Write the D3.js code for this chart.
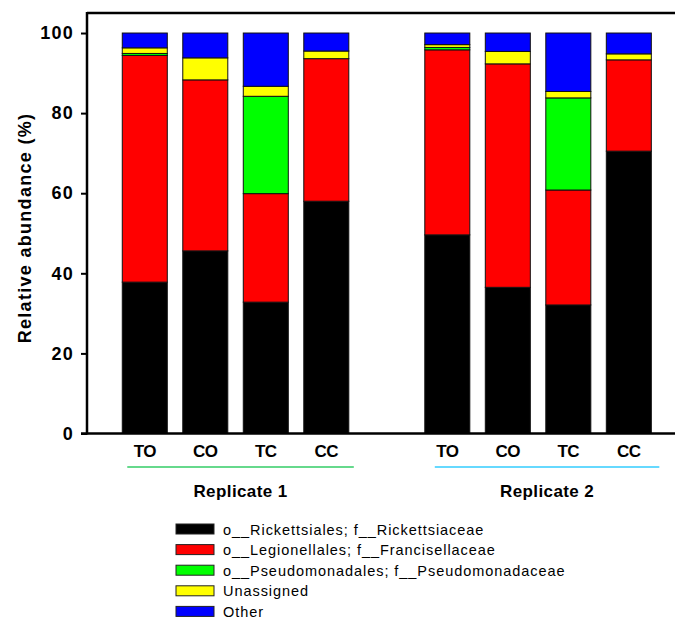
<!DOCTYPE html>
<html>
<head>
<meta charset="utf-8">
<script src="https://cdn.jsdelivr.net/npm/d3@7"></script>
<style>
  body { margin: 0; background: #fff; }
  svg { font-family: Arial, "Liberation Sans", sans-serif; }
</style>
</head>
<body>
<svg id="chart" width="675" height="620"></svg>
<script>
// chart data
const samples = ["TO", "CO", "TC", "CC"];
const replicates = ["Replicate 1", "Replicate 2"];
const taxa = ["o__Rickettsiales; f__Rickettsiaceae", "o__Legionellales; f__Francisellaceae",
              "o__Pseudomonadales; f__Pseudomonadaceae", "Unassigned", "Other"];
const colors = ["#000000", "#ff0000", "#00ff00", "#ffff00", "#0000ff"];

// one value per bar: replicate 1 TO, CO, TC, CC, then replicate 2
const rickettsiaceae   = [37.8, 45.6, 32.8, 58.0, 49.6, 36.5, 32.1, 70.5];
const francisellaceae  = [56.6, 42.7, 27.1, 35.6, 46.2, 55.8, 28.7, 22.8];
const pseudomonadaceae = [0.5, 0, 24.3, 0, 0.6, 0, 23.0, 0];
const unassigned       = [1.4, 5.5, 2.5, 1.9, 0.7, 3.1, 1.6, 1.5];
const other            = [3.7, 6.2, 13.3, 4.5, 2.9, 4.6, 14.6, 5.2];
const yTicks = [0, 20, 40, 60, 80, 100];

const series = [rickettsiaceae, francisellaceae, pseudomonadaceae, unassigned, other];

// build rows for the stack
const rows = [];
replicates.forEach((r, ri) => {
    samples.forEach((s, si) => {
        const i = ri * samples.length + si;
        const row = { key: ri + "-" + s, sample: s, rep: ri };
        taxa.forEach((t, ti) => row[t] = series[ti][i]);
        rows.push(row);
    });
});

// slot order with one empty slot between the replicates
const slots = rows.slice(0, 4).map(d => d.key).concat(["gap"], rows.slice(4).map(d => d.key));

const svg = d3.select("#chart");
const plotLeft = 87, plotTop = 13, plotBottom = 433.5;

const x = d3.scaleBand()
    .domain(slots)
    .range([plotLeft, 686.6])
    .paddingInner(0.256)
    .paddingOuter(0.583);

const y = d3.scaleLinear().domain([0, 105]).range([plotBottom, plotTop]);

const stacked = d3.stack().keys(taxa)(rows);

// bars
svg.append("g")
  .selectAll("g")
  .data(stacked)
  .join("g")
    .attr("fill", (d, i) => colors[i])
  .selectAll("rect")
  .data(d => d.filter(p => p[1] - p[0] > 0))
  .join("rect")
    .attr("x", d => x(d.data.key))
    .attr("width", x.bandwidth())
    .attr("y", d => y(d[1]))
    .attr("height", d => y(d[0]) - y(d[1]))
    .attr("stroke", "#111")
    .attr("stroke-width", 1);

// frame top line
svg.append("line")
    .attr("x1", plotLeft).attr("x2", 675)
    .attr("y1", plotTop).attr("y2", plotTop)
    .attr("stroke", "#000").attr("stroke-width", 2.5);

// y axis
const yAxis = svg.append("g")
    .attr("transform", `translate(${plotLeft},0)`)
    .call(d3.axisLeft(y).tickValues(yTicks).tickSize(6).tickPadding(7));
yAxis.select(".domain").remove();
yAxis.selectAll(".tick line").attr("stroke-width", 2);
yAxis.selectAll(".tick text")
    .attr("font-size", 18).attr("font-weight", "bold").attr("fill", "#000")
    .attr("letter-spacing", 1.2)
    .attr("font-family", "Arial, 'Liberation Sans', sans-serif");

svg.append("line")
    .attr("x1", plotLeft).attr("x2", plotLeft)
    .attr("y1", plotTop - 1).attr("y2", plotBottom + 1)
    .attr("stroke", "#000").attr("stroke-width", 2.5);

// x axis line
svg.append("line")
    .attr("x1", plotLeft - 6).attr("x2", 675)
    .attr("y1", plotBottom).attr("y2", plotBottom)
    .attr("stroke", "#000").attr("stroke-width", 2.5);

// sample labels
svg.append("g")
  .selectAll("text")
  .data(rows)
  .join("text")
    .attr("x", d => x(d.key) + x.bandwidth() / 2)
    .attr("y", 457)
    .attr("text-anchor", "middle")
    .attr("font-size", 17).attr("font-weight", "bold")
    .attr("letter-spacing", -0.5)
    .text(d => d.sample);

// replicate underlines and names
const repColors = ["#33cc66", "#33ccff"];
replicates.forEach((r, ri) => {
    const keys = rows.filter(d => d.rep === ri).map(d => d.key);
    const x1 = x(keys[0]) + 5 + ri * 5, x2 = x(keys[keys.length - 1]) + x.bandwidth() + 5 + ri * 3;
    svg.append("line")
        .attr("x1", x1).attr("x2", x2)
        .attr("y1", 467).attr("y2", 467)
        .attr("stroke", repColors[ri]).attr("stroke-width", 1.5);
    svg.append("text")
        .attr("x", (x1 + x2) / 2)
        .attr("y", 497)
        .attr("text-anchor", "middle")
        .attr("font-size", 17).attr("font-weight", "bold")
        .attr("letter-spacing", 0.4)
        .text(r);
});

// y label
svg.append("text")
    .attr("transform", "translate(31,228) rotate(-90)")
    .attr("text-anchor", "middle")
    .attr("font-size", 18).attr("font-weight", "bold")
    .attr("letter-spacing", 1.3)
    .text("Relative abundance (%)");

// legend
const legend = svg.append("g").attr("transform", "translate(176,529)");
taxa.forEach((t, i) => {
    const g = legend.append("g").attr("transform", `translate(0,${i * 20.6})`);
    g.append("rect")
        .attr("x", 0).attr("y", -5)
        .attr("width", 38).attr("height", 10)
        .attr("fill", colors[i]).attr("stroke", "#222").attr("stroke-width", 1);
    g.append("text")
        .attr("x", 47).attr("y", 5.5)
        .attr("font-size", 14.5)
        .attr("letter-spacing", 0.95)
        .text(t);
});
</script>
</body>
</html>
